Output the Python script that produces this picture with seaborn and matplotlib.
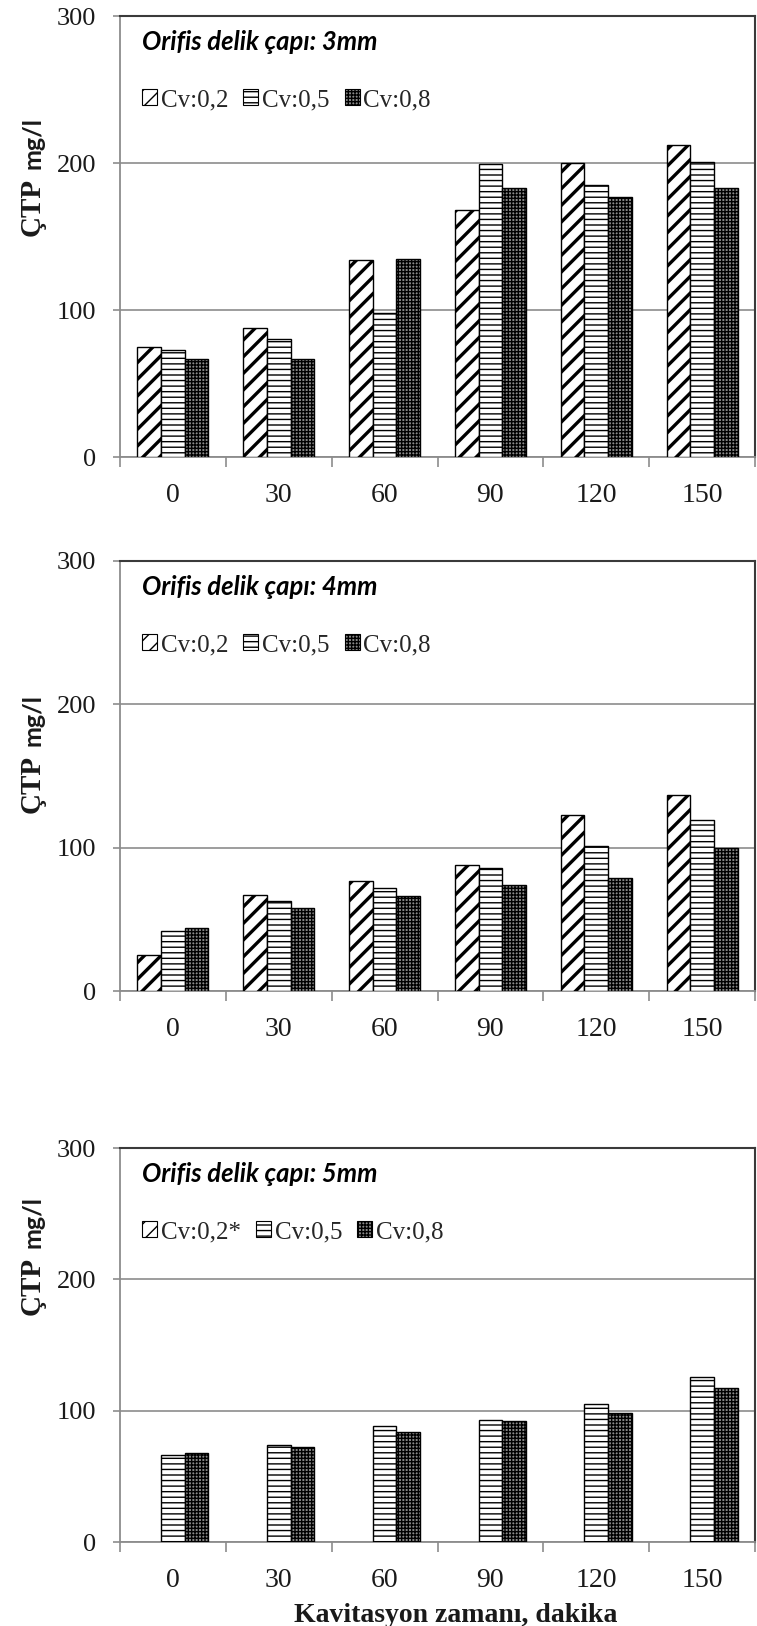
import numpy as np
import pandas as pd
import matplotlib
matplotlib.use("Agg")
import matplotlib.pyplot as plt
import seaborn as sns
from matplotlib.patches import Patch

# ---------------- data ----------------
times = [0, 30, 60, 90, 120, 150]
series = ["Cv:0,2", "Cv:0,5", "Cv:0,8"]

p1_cv02 = [75, 88, 134, 168, 200, 212]
p1_cv05 = [73, 80, 98, 199, 185, 201]
p1_cv08 = [67, 67, 135, 183, 177, 183]

p2_cv02 = [25, 67, 77, 88, 123, 137]
p2_cv05 = [42, 63, 72, 86, 101, 119]
p2_cv08 = [44, 58, 66, 74, 79, 100]

p3_cv02 = [np.nan, np.nan, np.nan, np.nan, np.nan, np.nan]   # no data (Cv:0,2*)
p3_cv05 = [66, 74, 88, 93, 105, 126]
p3_cv08 = [68, 72, 84, 92, 98, 117]

titles = ["Orifis delik çapı: 3mm", "Orifis delik çapı: 4mm", "Orifis delik çapı: 5mm"]
legend_labels = [["Cv:0,2", "Cv:0,5", "Cv:0,8"],
                 ["Cv:0,2", "Cv:0,5", "Cv:0,8"],
                 ["Cv:0,2*", "Cv:0,5", "Cv:0,8"]]
ylabel_main = "ÇTP"
ylabel_unit = "mg/l"
xlabel = "Kavitasyon zamanı, dakika"
yticks = [0, 100, 200, 300]

# ---------------- style ----------------
sns.set_theme(style="white")
plt.rcParams["font.family"] = ["Liberation Serif", "DejaVu Serif"]
plt.rcParams["hatch.linewidth"] = 1.0

GRAY = "#8c8c8c"
DARK = "#3a3a3a"
TXT = "#1a1a1a"
# series -> (hatch, hatch linewidth, facecolor)
hatch_style = {
    "Cv:0,2": ("//", 2.4, "white"),
    "Cv:0,5": ("---", 1.0, "white"),
    "Cv:0,8": ("+++++", 1.0, "#8a8a8a"),
}

W, H = 757, 1626
fig = plt.figure(figsize=(W / 100, H / 100), dpi=100)

panels = [
    dict(top=16, bottom=457, data={"Cv:0,2": p1_cv02, "Cv:0,5": p1_cv05, "Cv:0,8": p1_cv08},
         ylab_start=236),
    dict(top=561, bottom=991, data={"Cv:0,2": p2_cv02, "Cv:0,5": p2_cv05, "Cv:0,8": p2_cv08},
         ylab_start=813),
    dict(top=1148, bottom=1542, data={"Cv:0,2": p3_cv02, "Cv:0,5": p3_cv05, "Cv:0,8": p3_cv08},
         ylab_start=1315),
]

AX_L, AX_R = 120, 755
renderer = fig.canvas.get_renderer()

for i, pn in enumerate(panels):
    h_px = pn["bottom"] - pn["top"]
    w_px = AX_R - AX_L
    ax = fig.add_axes([AX_L / W, 1 - pn["bottom"] / H, w_px / W, h_px / H])

    rows = []
    for s, vals in pn["data"].items():
        for t, v in zip(times, vals):
            rows.append({"time": str(t), "series": s, "value": v})
    df = pd.DataFrame(rows)
    hue_order = list(pn["data"].keys())
    sns.barplot(data=df, x="time", y="value", hue="series", hue_order=hue_order,
                order=[str(t) for t in times],
                palette={s: hatch_style[s][2] for s in hue_order},
                saturation=1, width=0.67, edgecolor="black", linewidth=1.0,
                legend=False, ax=ax, zorder=3)
    present = [s for s in hue_order if np.isfinite(np.array(pn["data"][s], float)).any()]
    conts = ax.containers
    keys = hue_order if len(conts) == len(hue_order) else present
    for s, cont in zip(keys, conts):
        hs, hlw, fc = hatch_style[s]
        for p in cont.patches:
            p.set_hatch(hs)
            p.set_facecolor(fc)
            if hasattr(p, "set_hatch_linewidth"):
                p.set_hatch_linewidth(hlw)
            else:
                p._hatch_linewidth = hlw

    ax.set_xlim(-0.5, 5.5)
    ax.set_ylim(0, 300)
    ax.set_yticks(yticks)
    ax.set_yticklabels([str(v) for v in yticks])
    ax.set_xticks(range(len(times)))
    ax.set_xticklabels([str(t) for t in times])
    ax.set_xticks(np.arange(-0.5, 6, 1), minor=True)
    ax.set_xlabel("")
    ax.set_ylabel("")

    ax.tick_params(axis="x", which="major", bottom=True, length=0, pad=19,
                   labelsize=20, labelcolor=TXT)
    ax.tick_params(axis="x", which="minor", bottom=True, length=7, width=1.2,
                   color=GRAY, direction="out")
    ax.tick_params(axis="y", which="major", left=True, length=5, width=1.2,
                   color=GRAY, pad=12, labelsize=19, labelcolor=TXT)

    ax.yaxis.grid(True, color=GRAY, lw=1.2)
    ax.xaxis.grid(False)
    ax.set_axisbelow(True)
    for side in ["left", "bottom"]:
        ax.spines[side].set_color(GRAY)
        ax.spines[side].set_linewidth(1.3)
    for side in ["top", "right"]:
        ax.spines[side].set_color(DARK)
        ax.spines[side].set_linewidth(1.5)
        ax.spines[side].set_visible(True)

    # title inside plot, fitted to ~236 px width
    tt = ax.text((142 - AX_L) / w_px, 1 - 26 / h_px, titles[i], transform=ax.transAxes,
                 ha="left", va="center", fontsize=16, fontweight="bold", fontstyle="italic",
                 family=["Lato", "DejaVu Sans"], color="black")
    wt = tt.get_window_extent(renderer).width
    tt.set_fontsize(16 * 236 / wt)

    # legend
    handles = [Patch(facecolor=hatch_style[s][2], edgecolor="black", hatch=hatch_style[s][0], lw=0.8)
               for s in series]
    ax.legend(handles, legend_labels[i], loc="center left",
              bbox_to_anchor=((142 - AX_L) / w_px, 1 - 84 / h_px), frameon=False,
              ncol=3, handlelength=0.6, handleheight=0.6, handletextpad=0.15,
              columnspacing=0.6, borderaxespad=0, borderpad=0,
              prop={"family": ["Liberation Serif"], "size": 18})

    # y label: "ÇTP" (bold serif) + "mg/l" (bold sans)
    xb = (40 - AX_L) / w_px
    yb = (pn["bottom"] - pn["ylab_start"]) / h_px
    t1 = ax.text(xb, yb, ylabel_main, transform=ax.transAxes, rotation=90,
                 rotation_mode="anchor", ha="left", va="baseline", fontsize=21,
                 fontweight="bold", family=["Liberation Serif"], color=TXT)
    ext = t1.get_window_extent(renderer)
    dy = (ext.height + 9) / (fig.dpi * fig.get_figheight() * (h_px / H))
    ax.text(xb, yb + dy, ylabel_unit, transform=ax.transAxes, rotation=90,
            rotation_mode="anchor", ha="left", va="baseline", fontsize=18,
            fontweight="bold", family=["Lato", "DejaVu Sans"], color=TXT)

fig.text(456 / W, 1 - 1615 / H, xlabel, ha="center", va="center", fontsize=20,
         fontweight="bold", family=["Liberation Serif"], color=TXT)

fig.savefig("out.png", dpi=100, facecolor="white")
